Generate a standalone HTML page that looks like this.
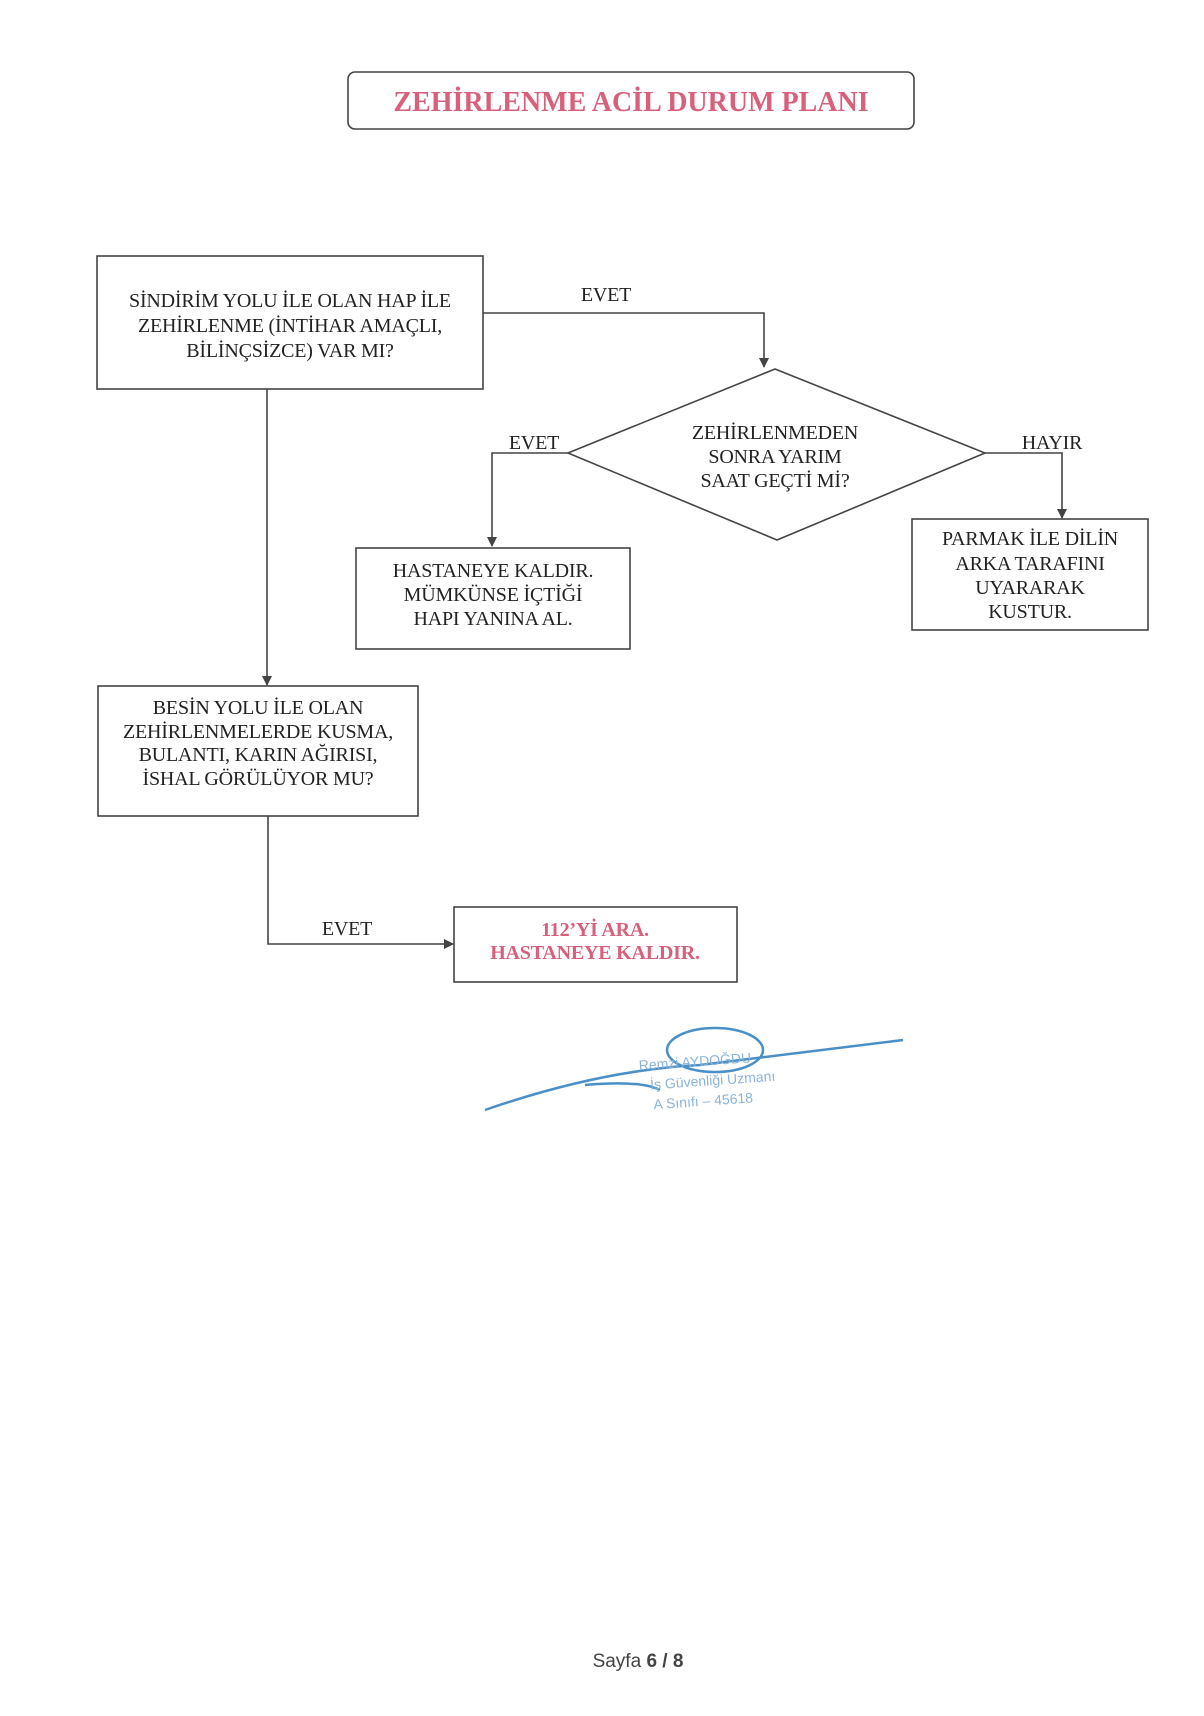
<!DOCTYPE html>
<html><head><meta charset="utf-8"><style>
html,body{margin:0;padding:0;background:#fff;}
svg{display:block;}
.t{font-family:"Liberation Serif",serif;font-size:20px;fill:#222;text-anchor:middle;letter-spacing:-0.2px;}
.p{fill:#d9607a;font-weight:bold;}
</style></head><body>
<svg width="1204" height="1716" viewBox="0 0 1204 1716" xmlns="http://www.w3.org/2000/svg">
<defs><marker id="a" markerWidth="10" markerHeight="10" refX="9" refY="5" orient="auto" markerUnits="userSpaceOnUse"><path d="M0,0 L10,5 L0,10 z" fill="#444"/></marker></defs>
<g fill="none" stroke="#444" stroke-width="1.6">
<rect x="348" y="72" width="566" height="57" rx="7"/>
<rect x="97" y="256" width="386" height="133"/>
<path d="M483,313 H764 V367" marker-end="url(#a)"/>
<polygon points="568,453 775,369 985,453 777,540"/>
<path d="M568,453 H492 V546" marker-end="url(#a)"/>
<path d="M985,453 H1062 V518" marker-end="url(#a)"/>
<rect x="356" y="548" width="274" height="101"/>
<rect x="912" y="519" width="236" height="111"/>
<path d="M267,389 V685" marker-end="url(#a)"/>
<rect x="98" y="686" width="320" height="130"/>
<path d="M268,816 V944 H453" marker-end="url(#a)"/>
<rect x="454" y="907" width="283" height="75"/>
</g>
<text x="631" y="111" class="t p" style="font-size:28px;letter-spacing:0">ZEHİRLENME ACİL DURUM PLANI</text>
<text class="t"><tspan x="290" y="307">SİNDİRİM YOLU İLE OLAN HAP İLE</tspan><tspan x="290" y="332">ZEHİRLENME (İNTİHAR AMAÇLI,</tspan><tspan x="290" y="357">BİLİNÇSİZCE) VAR MI?</tspan></text>
<text x="606" y="301" class="t">EVET</text>
<text class="t"><tspan x="775" y="439">ZEHİRLENMEDEN</tspan><tspan x="775" y="463">SONRA YARIM</tspan><tspan x="775" y="487">SAAT GEÇTİ Mİ?</tspan></text>
<text x="534" y="449" class="t">EVET</text>
<text x="1052" y="449" class="t">HAYIR</text>
<text class="t"><tspan x="493" y="577">HASTANEYE KALDIR.</tspan><tspan x="493" y="601">MÜMKÜNSE İÇTİĞİ</tspan><tspan x="493" y="625">HAPI YANINA AL.</tspan></text>
<text class="t"><tspan x="1030" y="545">PARMAK İLE DİLİN</tspan><tspan x="1030" y="570">ARKA TARAFINI</tspan><tspan x="1030" y="594">UYARARAK</tspan><tspan x="1030" y="618">KUSTUR.</tspan></text>
<text class="t"><tspan x="258" y="714">BESİN YOLU İLE OLAN</tspan><tspan x="258" y="738">ZEHİRLENMELERDE KUSMA,</tspan><tspan x="258" y="761">BULANTI, KARIN AĞIRISI,</tspan><tspan x="258" y="785">İSHAL GÖRÜLÜYOR MU?</tspan></text>
<text x="347" y="935" class="t">EVET</text>
<text class="t p"><tspan x="595" y="936">112’Yİ ARA.</tspan><tspan x="595" y="959">HASTANEYE KALDIR.</tspan></text>
<g fill="none" stroke="#4a90c8" stroke-width="2.5">
<path d="M485,1110 Q600,1070 700,1065 L903,1040"/>
<path d="M585,1085 Q640,1080 660,1090"/>
<ellipse cx="715" cy="1050" rx="48" ry="22"/>
</g>
<g font-family="Liberation Sans,sans-serif" font-size="14" fill="#8ab4d8" transform="rotate(-4 700 1080)">
<text x="640" y="1066">Remzi AYDOĞDU</text>
<text x="650" y="1086">İş Güvenliği Uzmanı</text>
<text x="652" y="1106">A Sınıfı  – 45618</text>
</g>
<text x="638" y="1667" font-family="Liberation Sans,sans-serif" font-size="19" fill="#444" text-anchor="middle">Sayfa <tspan font-weight="bold">6 / 8</tspan></text>
</svg>
</body></html>
